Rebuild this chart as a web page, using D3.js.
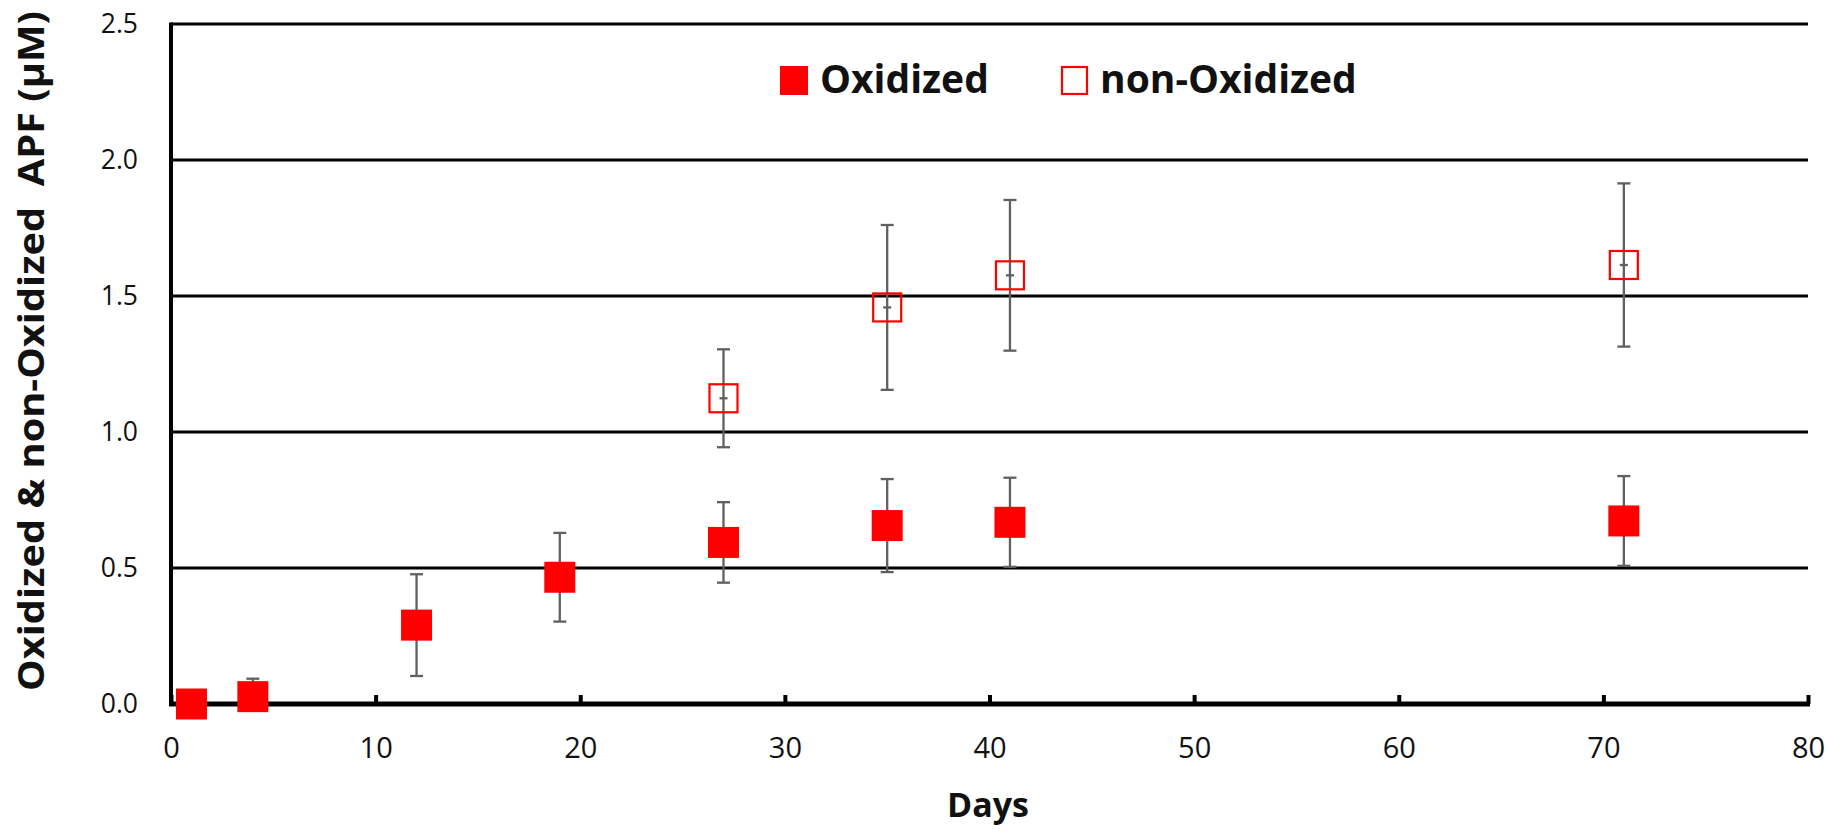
<!DOCTYPE html>
<html>
<head>
<meta charset="utf-8">
<script src="https://cdn.jsdelivr.net/npm/d3@7"></script>
<style>
  html, body { margin: 0; padding: 0; background: #fff; }
  svg { display: block; font-family: 'Open Sans', 'Noto Sans', sans-serif; }
  .axis text { fill: #111; }
</style>
</head>
<body>
<svg id="chart" width="1831" height="834"></svg>
<script>
// data
const oxDays = [1, 4, 12, 19, 27, 35, 41, 71];
const oxMean = [0.0, 0.027, 0.29, 0.466, 0.594, 0.656, 0.668, 0.673];
const oxSd = [0.01, 0.066, 0.187, 0.163, 0.148, 0.171, 0.164, 0.165];

const nonDays = [27, 35, 41, 71];
const nonMean = [1.124, 1.458, 1.576, 1.614];
const nonSd = [0.18, 0.303, 0.277, 0.3];

const xTicks = [0, 10, 20, 30, 40, 50, 60, 70, 80];
const yTicks = [0, 0.5, 1.0, 1.5, 2.0, 2.5];
const seriesNames = ['Oxidized', 'non-Oxidized'];

const fontStack = "'Open Sans', 'Noto Sans', sans-serif";
const svg = d3.select('#chart');
const x = d3.scaleLinear().domain([0, 80]).range([171, 1808]);
const y = d3.scaleLinear().domain([0, 2.5]).range([704, 24]);

const red = '#ff0000';
const errColor = '#606060';

svg.append('defs').append('clipPath').attr('id', 'plotClip')
  .append('rect')
  .attr('x', x(0)).attr('y', y(2.5))
  .attr('width', x(80) - x(0)).attr('height', y(0) - y(2.5));

// gridlines
svg.append('g').attr('class', 'grid')
  .selectAll('line')
  .data(yTicks.filter((v) => v > 0))
  .join('line')
  .attr('x1', x(0)).attr('x2', x(80))
  .attr('y1', (d) => y(d)).attr('y2', (d) => y(d))
  .attr('stroke', '#000').attr('stroke-width', 3);

// axes
const xAxis = d3.axisBottom(x).tickValues(xTicks).tickFormat(d3.format('d'))
  .tickSizeInner(-9).tickSizeOuter(0).tickPadding(33);
const xAxisGroup = svg.append('g').attr('class', 'axis')
  .attr('transform', `translate(0, ${y(0)})`).call(xAxis)
  .attr('font-family', fontStack);
xAxisGroup.select('.domain').attr('stroke', '#000').attr('stroke-width', 5)
  .attr('d', `M${x(0) - 2},0H${x(80) + 2}`);
xAxisGroup.selectAll('.tick line').attr('stroke', '#000').attr('stroke-width', 4);
xAxisGroup.selectAll('.tick text').attr('font-size', 29);

const yAxis = d3.axisLeft(y).tickValues(yTicks).tickFormat(d3.format('.1f'))
  .tickSize(0).tickPadding(33);
const yAxisGroup = svg.append('g').attr('class', 'axis')
  .attr('transform', `translate(${x(0)}, 0)`).call(yAxis)
  .attr('font-family', fontStack);
yAxisGroup.select('.domain').attr('stroke', '#000').attr('stroke-width', 4)
  .attr('d', `M0,${y(2.5) - 1.5}V${y(0) + 2}`);
yAxisGroup.selectAll('.tick text').attr('font-size', 26.5);

// axis titles
svg.append('text')
  .attr('x', 988).attr('y', 817)
  .attr('text-anchor', 'middle')
  .attr('font-size', 34).attr('font-weight', 700).attr('fill', '#111')
  .text('Days');

svg.append('text')
  .attr('transform', `translate(44, 351) rotate(-90)`)
  .attr('text-anchor', 'middle')
  .attr('font-size', 35).attr('font-weight', 700).attr('fill', '#111')
  .attr('textLength', 680).attr('lengthAdjust', 'spacingAndGlyphs')
  .style('white-space', 'pre')
  .text('Oxidized & non-Oxidized  APF (\u00b5M)');

// error bars
const oxData = oxDays.map((d, i) => ({ day: d, mean: oxMean[i], sd: oxSd[i] }));
const nonData = nonDays.map((d, i) => ({ day: d, mean: nonMean[i], sd: nonSd[i] }));

function drawErrors(data) {
  const g = svg.append('g').attr('clip-path', 'url(#plotClip)')
    .attr('stroke', errColor).attr('stroke-width', 2.3);
  const capW = 6.5;
  data.forEach((d) => {
    const cx = x(d.day);
    const top = y(d.mean + d.sd);
    const bot = y(d.mean - d.sd);
    g.append('line').attr('x1', cx).attr('x2', cx).attr('y1', top).attr('y2', bot);
    g.append('line').attr('x1', cx - capW).attr('x2', cx + capW).attr('y1', top).attr('y2', top);
    g.append('line').attr('x1', cx - capW).attr('x2', cx + capW).attr('y1', bot).attr('y2', bot);
  });
  return g;
}
drawErrors(oxData);
drawErrors(nonData);

// markers
const fullSize = 31;
svg.append('g').selectAll('rect')
  .data(oxData)
  .join('rect')
  .attr('x', (d) => x(d.day) - fullSize / 2)
  .attr('y', (d) => y(d.mean) - fullSize / 2)
  .attr('width', fullSize).attr('height', fullSize)
  .attr('fill', red);

const hollowSize = 28;
svg.append('g').selectAll('rect')
  .data(nonData)
  .join('rect')
  .attr('x', (d) => x(d.day) - hollowSize / 2)
  .attr('y', (d) => y(d.mean) - hollowSize / 2)
  .attr('width', hollowSize).attr('height', hollowSize)
  .attr('fill', 'none').attr('stroke', red).attr('stroke-width', 2.2);

svg.append('g').selectAll('line')
  .data(nonData)
  .join('line')
  .attr('x1', (d) => x(d.day) - 4).attr('x2', (d) => x(d.day) + 4)
  .attr('y1', (d) => y(d.mean)).attr('y2', (d) => y(d.mean))
  .attr('stroke', errColor).attr('stroke-width', 2.3);

// legend
const legend = svg.append('g');
const legendItems = [
  { name: seriesNames[0], x: 780, filled: true },
  { name: seriesNames[1], x: 1061, filled: false },
];
legendItems.forEach((item) => {
  const g = legend.append('g').attr('transform', `translate(${item.x}, 66)`);
  if (item.filled) {
    g.append('rect').attr('width', 28).attr('height', 29).attr('fill', red);
  } else {
    g.append('rect').attr('x', 1).attr('y', 1).attr('width', 25).attr('height', 27)
      .attr('fill', 'none').attr('stroke', red).attr('stroke-width', 2.2);
  }
  g.append('text')
    .attr('x', item.filled ? 40 : 39).attr('y', 27)
    .attr('font-size', 39).attr('font-weight', 700).attr('fill', '#111')
    .text(item.name);
});
</script>
</body>
</html>
